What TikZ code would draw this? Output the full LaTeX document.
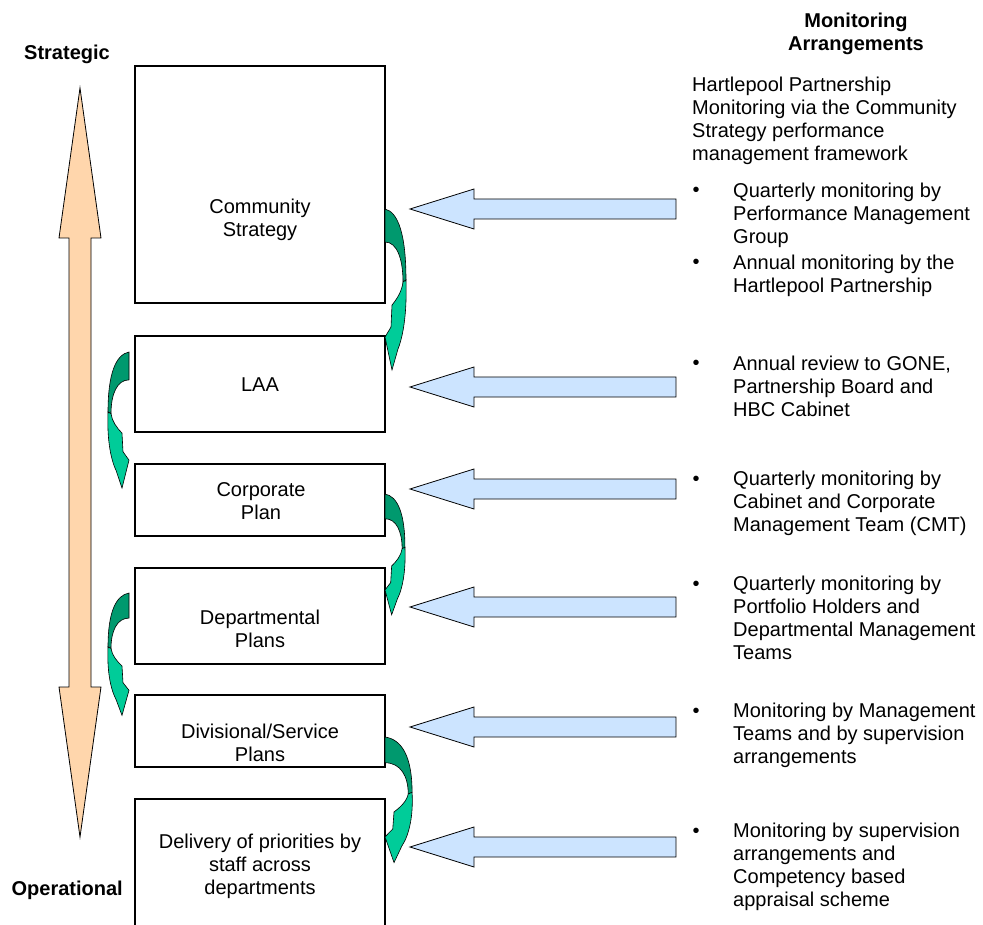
\documentclass[tikz,border=0pt]{standalone}
\usepackage{fontspec}
\setmainfont{Liberation Sans}
\definecolor{peach}{HTML}{FFD6AC}
\definecolor{skyb}{HTML}{CCE4FF}
\definecolor{gdark}{HTML}{00996E}
\definecolor{glight}{HTML}{00CC99}
\tikzset{
  box/.style={draw, line width=1.5pt, minimum width=250pt, inner sep=0pt},
  txt/.style={font=\fontsize{20}{23}\selectfont, align=center, inner sep=0pt},
  item/.style={font=\fontsize{20}{23}\selectfont, align=left, anchor=north west, inner sep=0pt},
  head/.style={font=\fontsize{20}{23}\selectfont\bfseries, align=center, inner sep=0pt},
  bul/.style={font=\fontsize{20}{23}\selectfont, anchor=base, inner sep=0pt},
  bluearr/.style={draw, line width=0.8pt, fill=skyb, line join=miter},
  orangearr/.style={draw, line width=0.8pt, fill=peach, line join=miter},
  gdk/.style={draw, line width=0.6pt, fill=gdark},
  glt/.style={draw, line width=0.6pt, fill=glight},
}
\newcommand{\garrow}[4]{%
  \begin{scope}[shift={(#1,#2)}, xscale=#3, yscale=#4]
    \draw[gdk] (0,0) .. controls (13,3) and (21,25) .. (21,71) -- (18,73)
      .. controls (18,50) and (12,33) .. (0,33) -- cycle;
    \draw[glt] (21,71) .. controls (22,100) and (19,125) .. (13,140) -- (7,161)
      -- (0,128) -- (6,118) -- (7,96) .. controls (12,90) and (17,82) .. (18,73) -- cycle;
  \end{scope}}
\newcommand{\bluearrow}[2]{%
  \coordinate (#1) at (410,#2);
  \draw[bluearr] (410,#2) -- (474,{#2-20}) -- (474,{#2-10}) -- (676,{#2-10})
    -- (676,{#2+10}) -- (474,{#2+10}) -- (474,{#2+20}) -- cycle;}
\begin{document}
\begin{tikzpicture}[x=1pt,y=-1pt]
\useasboundingbox (0,0) rectangle (983,925);

% labels left
\node[head, anchor=base] (strat) at (67,60) {Strategic};
\node[head, anchor=base east] (oper) at (123,895) {Operational};

% orange double arrow
\draw[orangearr] (80,88) -- (101,238) -- (91,238) -- (91,687) -- (101,687)
  -- (80,837) -- (59,687) -- (69,687) -- (69,238) -- (59,238) -- cycle;

% boxes
\node[box, minimum height=237pt] (cs) at (260,184.5) {};
\node[box, minimum height=96pt] (laa) at (260,384) {};
\node[box, minimum height=72pt] (corp) at (260,500) {};
\node[box, minimum height=96pt] (dept) at (260,616) {};
\node[box, minimum height=72pt] (div) at (260,731) {};
\node[box, minimum height=170pt] (deliv) at (260,884) {};

\node[txt] (t1) at (260,220) {Community\\Strategy};
\node[txt] (t2) at (260,385) {LAA};
\node[txt] (t3) at (261,501) {Corporate\\Plan};
\node[txt] (t4) at (260,629) {Departmental\\Plans};
\node[txt] (t5) at (260,743) {Divisional/Service\\Plans};
\node[txt] (t6) at (260,866) {Delivery of priorities by\\staff across\\departments};

% green curved arrows
\garrow{385}{209}{1}{1}
\garrow{129}{352}{-1}{0.845}
\garrow{385}{494}{0.95}{0.75}
\garrow{129}{593}{-1}{0.76}
\garrow{385}{737}{1.29}{0.78}

% blue arrows
\bluearrow{ba1}{209}
\bluearrow{ba2}{387}
\bluearrow{ba3}{489}
\bluearrow{ba4}{607}
\bluearrow{ba5}{727}
\bluearrow{ba6}{847}

% right column
\node[head] (mon) at (856,34) {Monitoring\\Arrangements};
\node[item] (p0) at (692,76.5) {Hartlepool Partnership\\Monitoring via the Community\\Strategy performance\\management framework};

\node[bul] (u1) at (696,197) {•};
\node[item] (b1) at (733,182.5) {Quarterly monitoring by\\Performance Management\\Group};
\node[bul] (u2) at (696,269) {•};
\node[item] (b2) at (733,254.5) {Annual monitoring by the\\Hartlepool Partnership};
\node[bul] (u3) at (696,370) {•};
\node[item] (b3) at (733,355.5) {Annual review to GONE,\\Partnership Board and\\HBC Cabinet};
\node[bul] (u4) at (696,485) {•};
\node[item] (b4) at (733,470.5) {Quarterly monitoring by\\Cabinet and Corporate\\Management Team (CMT)};
\node[bul] (u5) at (696,590) {•};
\node[item] (b5) at (733,575.5) {Quarterly monitoring by\\Portfolio Holders and\\Departmental Management\\Teams};
\node[bul] (u6) at (696,717) {•};
\node[item] (b6) at (733,702.5) {Monitoring by Management\\Teams and by supervision\\arrangements};
\node[bul] (u7) at (696,837) {•};
\node[item] (b7) at (733,822.5) {Monitoring by supervision\\arrangements and\\Competency based\\appraisal scheme};
\end{tikzpicture}
\end{document}
